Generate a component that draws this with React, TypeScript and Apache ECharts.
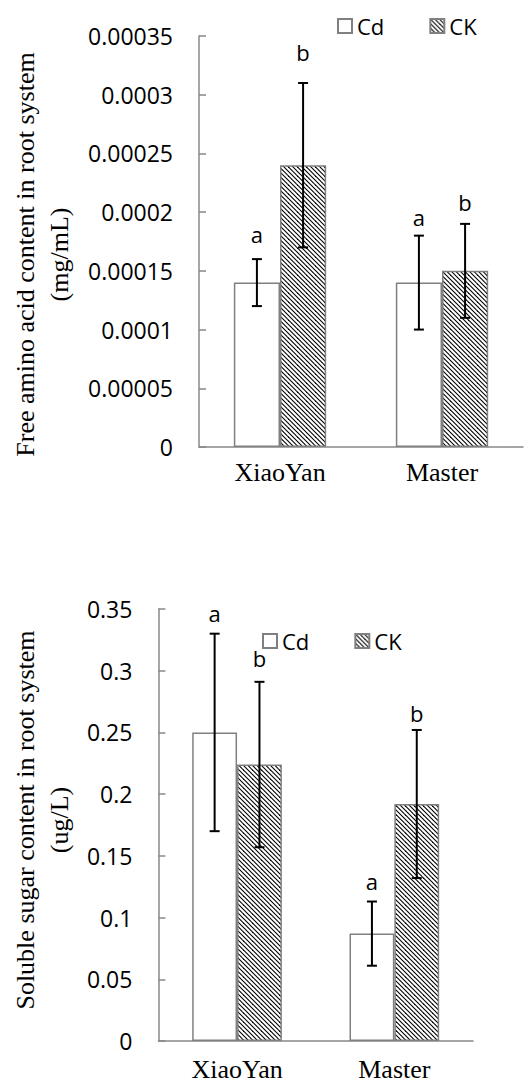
import React, { useEffect, useRef } from 'react';
import * as echarts from 'echarts';

const categories = ['XiaoYan', 'Master'];
const seriesNames = ['Cd', 'CK'];

// Chart 1: free amino acid (mg/mL)
const aminoTicks = ['0', '0.00005', '0.0001', '0.00015', '0.0002', '0.00025', '0.0003', '0.00035'];
const aminoCd = [0.00014, 0.00014];
const aminoCK = [0.00024, 0.00015];
const aminoCdErrLow = [0.00012, 0.0001];
const aminoCdErrHigh = [0.00016, 0.00018];
const aminoCKErrLow = [0.00017, 0.00011];
const aminoCKErrHigh = [0.00031, 0.00019];
const aminoCdLetters = ['a', 'a'];
const aminoCKLetters = ['b', 'b'];
const aminoCdLetterY = [0.000181, 0.000196];
const aminoCKLetterY = [0.000336, 0.000209];

// Chart 2: soluble sugar (ug/L)
const sugarTicks = ['0', '0.05', '0.1', '0.15', '0.2', '0.25', '0.3', '0.35'];
const sugarCd = [0.25, 0.087];
const sugarCK = [0.224, 0.192];
const sugarCdErrLow = [0.17, 0.061];
const sugarCdErrHigh = [0.33, 0.113];
const sugarCKErrLow = [0.157, 0.132];
const sugarCKErrHigh = [0.291, 0.252];
const sugarCdLetters = ['a', 'a'];
const sugarCKLetters = ['b', 'b'];
const sugarCdLetterY = [0.3465, 0.13];
const sugarCKLetterY = [0.31, 0.266];

const SANS = 'Open Sans';
const SERIF = 'Liberation Serif';
const AXIS = '#888888';
const BAR_OFFSET = 0.1425;

function makeHatch() {
  const size = 9;
  const c = document.createElement('canvas');
  c.width = size;
  c.height = size;
  const ctx = c.getContext('2d')!;
  ctx.fillStyle = '#ffffff';
  ctx.fillRect(0, 0, size, size);
  ctx.strokeStyle = '#000000';
  ctx.lineWidth = 1.1;
  for (let k = -3; k <= 3; k++) {
    const off = k * 4.5;
    ctx.beginPath();
    ctx.moveTo(off - 2, -2);
    ctx.lineTo(off + size + 2, size + 2);
    ctx.stroke();
  }
  return c;
}

function errSeries(axis: number, low: number[], high: number[], frac: number) {
  return {
    type: 'custom',
    xAxisIndex: axis,
    yAxisIndex: axis,
    z: 5,
    silent: true,
    encode: { x: 0, y: [1, 2] },
    data: categories.map((_, i) => [i, low[i], high[i]]),
    renderItem: (params: any, api: any) => {
      const ci = api.value(0);
      const band = api.size([1, 0])[0];
      const x = api.coord([ci, 0])[0] + frac * band;
      const y1 = api.coord([ci, api.value(1)])[1];
      const y2 = api.coord([ci, api.value(2)])[1];
      const st = { stroke: '#000', lineWidth: 2 };
      return {
        type: 'group',
        children: [
          { type: 'line', shape: { x1: x, y1, x2: x, y2 }, style: st },
          { type: 'line', shape: { x1: x - 5, y1, x2: x + 5, y2: y1 }, style: st },
          { type: 'line', shape: { x1: x - 5, y1: y2, x2: x + 5, y2 }, style: st },
        ],
      };
    },
  };
}

function letterSeries(axis: number, ys: number[], letters: string[], frac: number) {
  return {
    type: 'custom',
    xAxisIndex: axis,
    yAxisIndex: axis,
    z: 6,
    silent: true,
    encode: { x: 0, y: 1 },
    data: categories.map((_, i) => [i, ys[i]]),
    renderItem: (params: any, api: any) => {
      const ci = api.value(0);
      const band = api.size([1, 0])[0];
      const p = api.coord([ci, api.value(1)]);
      return {
        type: 'text',
        x: p[0] + frac * band,
        y: p[1],
        style: {
          text: letters[params.dataIndex],
          fill: '#000',
          fontFamily: SANS,
          fontSize: 22,
          align: 'center',
          verticalAlign: 'middle',
        },
      };
    },
  };
}

export default function App() {
  const ref = useRef<HTMLDivElement>(null);
  useEffect(() => {
    if (!ref.current) return;
    const chart = echarts.init(ref.current, null, { renderer: 'svg' });
    const hatch = { image: makeHatch(), repeat: 'repeat' };
    const cdStyle = { color: '#ffffff', borderColor: '#808080', borderWidth: 1.5 };
    const ckStyle = { color: hatch, borderColor: '#808080', borderWidth: 1.5 };
    const xAxisBase = (gi: number, margin: number) => ({
      gridIndex: gi,
      type: 'category',
      data: categories,
      axisLine: { lineStyle: { color: AXIS, width: 1.5 } },
      axisTick: { show: false },
      axisLabel: { fontFamily: SERIF, fontSize: 26, color: '#000', margin },
    });
    const yAxisBase = (gi: number, max: number, interval: number, ticks: string[], name: string, gap: number, pad: number[]) => ({
      gridIndex: gi,
      type: 'value',
      min: 0,
      max,
      interval,
      splitLine: { show: false },
      axisLine: { show: true, lineStyle: { color: AXIS, width: 1.5 } },
      axisTick: { show: true, inside: true, length: 7, lineStyle: { color: AXIS, width: 1.5 } },
      axisLabel: {
        fontFamily: SANS,
        fontSize: 23,
        color: '#000',
        margin: 26,
        formatter: (v: number) => ticks[Math.round(v / interval)] ?? '',
      },
      name,
      nameLocation: 'middle',
      nameRotate: 90,
      nameGap: gap,
      nameTextStyle: { fontFamily: SERIF, fontSize: 26, lineHeight: 34, color: '#000', padding: pad },
    });
    const legendBase = (left: number, top: number) => ({
      data: seriesNames,
      left,
      top,
      icon: 'rect',
      itemWidth: 14,
      itemHeight: 14,
      itemGap: 45,
      padding: 0,
      selectedMode: false,
      textStyle: { fontFamily: SANS, fontSize: 22, color: '#000' },
    });
    chart.setOption({
      animation: false,
      backgroundColor: '#ffffff',
      grid: [
        { left: 195, top: 36, width: 328, height: 411 },
        { left: 137, top: 609, width: 336, height: 432 },
      ],
      legend: [legendBase(337, 15), legendBase(262, 630)],
      xAxis: [xAxisBase(0, 12), xAxisBase(1, 15)],
      yAxis: [
        yAxisBase(0, 0.00035, 0.00005, aminoTicks, 'Free amino acid content in root system\n(mg/mL)', 123, [0, 26, 0, 0]),
        yAxisBase(1, 0.35, 0.05, sugarTicks, 'Soluble sugar content in root system\n(ug/L)', 67, [0, 0, 0, 10]),
      ],
      series: [
        { type: 'bar', name: 'Cd', xAxisIndex: 0, yAxisIndex: 0, data: aminoCd, barGap: '0%', barCategoryGap: '43%', itemStyle: cdStyle },
        { type: 'bar', name: 'CK', xAxisIndex: 0, yAxisIndex: 0, data: aminoCK, barGap: '0%', barCategoryGap: '43%', itemStyle: ckStyle },
        { type: 'bar', name: 'Cd', xAxisIndex: 1, yAxisIndex: 1, data: sugarCd, barGap: '0%', barCategoryGap: '43%', itemStyle: cdStyle },
        { type: 'bar', name: 'CK', xAxisIndex: 1, yAxisIndex: 1, data: sugarCK, barGap: '0%', barCategoryGap: '43%', itemStyle: ckStyle },
        errSeries(0, aminoCdErrLow, aminoCdErrHigh, -BAR_OFFSET),
        errSeries(0, aminoCKErrLow, aminoCKErrHigh, BAR_OFFSET),
        errSeries(1, sugarCdErrLow, sugarCdErrHigh, -BAR_OFFSET),
        errSeries(1, sugarCKErrLow, sugarCKErrHigh, BAR_OFFSET),
        letterSeries(0, aminoCdLetterY, aminoCdLetters, -BAR_OFFSET),
        letterSeries(0, aminoCKLetterY, aminoCKLetters, BAR_OFFSET),
        letterSeries(1, sugarCdLetterY, sugarCdLetters, -BAR_OFFSET),
        letterSeries(1, sugarCKLetterY, sugarCKLetters, BAR_OFFSET),
      ],
    } as any);
    return () => chart.dispose();
  }, []);
  return (
    <div
      ref={ref}
      style={{ position: 'absolute', left: 0, top: 0, width: 529, height: 1082, background: '#fff' }}
    />
  );
}
